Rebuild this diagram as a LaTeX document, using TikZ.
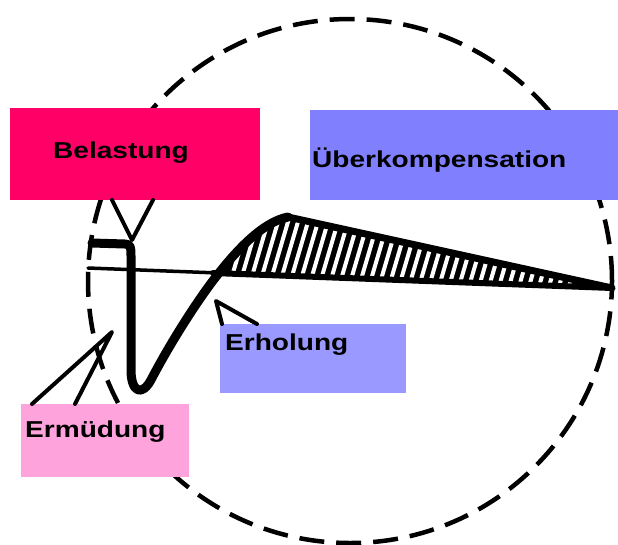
\documentclass[tikz,border=0pt]{standalone}
\usepackage{fontspec}
\newfontfamily\lblfont{Liberation Sans}[FakeStretch=1.22]
\definecolor{loadpink}{RGB}{255,0,102}
\definecolor{superblue}{RGB}{128,128,255}
\definecolor{recoblue}{RGB}{153,153,255}
\definecolor{fatiguepink}{RGB}{255,163,220}

\begin{document}
\begin{tikzpicture}[x=1pt,y=-1pt,line cap=round,line join=round,
  box/.style={draw=none,inner sep=0pt,outer sep=0pt},
  lbl/.style={anchor=base west,inner sep=0pt,font=\lblfont\bfseries\fontsize{23}{27}\selectfont},
  pointer/.style={line width=4pt},
  cycleline/.style={dash pattern=on 25pt off 12pt,line width=4.5pt,line cap=butt}]
\useasboundingbox (0,0) rectangle (618,544);
\draw[cycleline] (350,281) circle (262pt);
\node[box,fill=loadpink,minimum width=250pt,minimum height=92pt] (load) at (135,154) {};
\node[box,fill=superblue,minimum width=308pt,minimum height=90pt] (super) at (464,155) {};
\node[box,fill=recoblue,minimum width=186pt,minimum height=69pt] (reco) at (313,358.5) {};
\node[box,fill=fatiguepink,minimum width=168pt,minimum height=73pt] (fatigue) at (105,440.5) {};
\coordinate (rest) at (88,268);
\coordinate (cross) at (215,278);
\coordinate (peak) at (288,217);
\coordinate (back) at (612,288);
% hatched gain
\begin{scope}
\clip (cross) .. controls (235,252) and (262,222) .. (peak) -- (back) -- (213,273) -- cycle;
\fill (200,200) rectangle (620,300);
\foreach \x in {185,195,...,625} \draw[white,line width=4pt] (\x,300) -- ++(25,-85);
\end{scope}
\draw[line width=3.5pt] (rest) -- (back);
\draw[line width=6pt] (213,273) -- (back);
\draw[line width=9pt] (92,243) -- (125,244) .. controls (131,244) and (131,248) .. (131,256) -- (131,370) .. controls (131,392) and (142,398) .. (152,378) .. controls (172,340) and (198,300) .. (cross) .. controls (235,252) and (262,222) .. (peak);
\draw[line width=7pt] (peak) -- (back);
\coordinate (loadtip) at (132,240);
\draw[pointer] ([xshift=-23pt]load.south) -- (loadtip) -- ([xshift=18pt]load.south);
\coordinate (recotip) at (216,301);
\draw[pointer] ([xshift=2pt]reco.north west) -- (recotip) -- ([xshift=37pt]reco.north west);
\coordinate (fatiguetip) at (112,332);
\draw[pointer] ([xshift=11pt]fatigue.north west) -- (fatiguetip) -- ([xshift=54pt]fatigue.north west);
\node[lbl] (loadtxt) at (53,158) {Belastung};
\node[lbl] (supertxt) at (312,167) {Überkompensation};
\node[lbl] (recotxt) at (225,350) {Erholung};
\node[lbl] (fatiguetxt) at (25,437) {Ermüdung};
\end{tikzpicture}
\end{document}
